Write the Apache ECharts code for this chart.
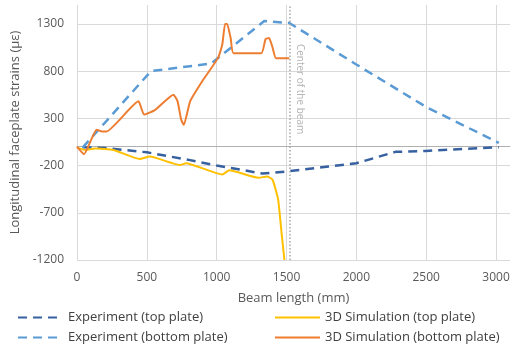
<!DOCTYPE html>
<html>
<head>
<meta charset="utf-8">
<script src="https://cdn.jsdelivr.net/npm/echarts@6/dist/echarts.min.js"></script>
<style>
  html, body { margin: 0; padding: 0; background: #fff; }
  #chart { width: 532px; height: 353px; }
</style>
</head>
<body>
<div id="chart"></div>
<script>
// Longitudinal faceplate strains along the beam: [position (mm), strain (µε)]
const expTop = [
  [40, -5], [200, -15], [500, -60], [800, -140], [1000, -200], [1330, -285],
  [1520, -260], [1800, -210], [2000, -175], [2280, -55], [2500, -45], [3020, -5]
];
const expBottom = [
  [40, -10], [530, 800], [960, 880], [1340, 1330], [1520, 1310],
  [2000, 870], [2500, 420], [3020, 40]
];
const simTop = [
  [0, -10], [60, -35], [130, -20], [260, -35], [450, -130], [520, -105],
  [740, -195], [780, -175], [1040, -295], [1090, -250], [1300, -330],
  [1360, -315], [1400, -350], [1440, -560], [1465, -920], [1485, -1200]
];
const simBottom = [
  [0, 0], [50, -80], [140, 180], [180, 160], [210, 160], [440, 480],
  [480, 340], [560, 390], [690, 550], [720, 480], [745, 290], [765, 230],
  [810, 480], [900, 700], [1010, 940], [1040, 1080], [1060, 1300],
  [1075, 1300], [1100, 1150], [1120, 990], [1320, 990], [1350, 1140],
  [1375, 1150], [1400, 1050], [1425, 935], [1520, 935]
];
const beamCenter = 1520;

const seriesNames = [
  'Experiment (top plate)',
  'Experiment (bottom plate)',
  '3D Simulation (top plate)',
  '3D Simulation (bottom plate)'
];
const seriesColors = ['#36609f', '#5b9bd5', '#ffc000', '#ed7d31'];

const font = '"Open Sans", sans-serif';
const gridColor = '#d9d9d9';
const labelColor = '#595959';
const plain = v => String(v);

const chart = echarts.init(document.getElementById('chart'), null, { renderer: 'canvas' });

const legendBase = {
  orient: 'vertical',
  top: 311,
  padding: 0,
  itemWidth: 45, itemHeight: 14, itemGap: 7,
  itemStyle: { opacity: 0 },
  textStyle: { color: '#404040', fontSize: 13, fontFamily: font }
};

const option = {
  animation: false,
  textStyle: { fontFamily: font },
  grid: { left: 77, right: 22, top: 5, bottom: 93, containLabel: false },
  xAxis: [
    {
      type: 'value',
      min: 0, max: 3100, interval: 500,
      name: 'Beam length (mm)',
      nameLocation: 'middle',
      nameGap: 32,
      nameTextStyle: { color: labelColor, fontSize: 13, fontFamily: font },
      axisLine: { show: false, onZero: false },
      axisTick: { show: false },
      axisLabel: { color: labelColor, fontSize: 12, margin: 12, showMaxLabel: false, fontFamily: font, formatter: plain },
      splitLine: { show: true, showMaxLine: false, lineStyle: { color: gridColor, width: 1 } }
    },
    {
      // horizontal zero line across the plot
      type: 'value',
      min: 0, max: 3100,
      axisLine: { show: true, onZero: true, lineStyle: { color: '#b0b0b0', width: 1 } },
      axisTick: { show: false },
      axisLabel: { show: false },
      splitLine: { show: false }
    }
  ],
  yAxis: {
    type: 'value',
    min: -1200, max: 1500, interval: 500,
    name: 'Longitudinal faceplate strains (µε)',
    nameLocation: 'middle',
    nameGap: 55,
    nameTextStyle: { color: labelColor, fontSize: 13, fontFamily: font },
    axisLine: { show: false },
    axisTick: { show: false },
    axisLabel: { color: labelColor, fontSize: 12, margin: 13, showMaxLabel: false, fontFamily: font, formatter: plain },
    splitLine: { show: true, showMaxLine: false, lineStyle: { color: gridColor, width: 1 } }
  },
  legend: [
    Object.assign({}, legendBase, { data: [seriesNames[0], seriesNames[1]], left: 17 }),
    Object.assign({}, legendBase, { data: [seriesNames[2], seriesNames[3]], left: 274 })
  ],
  series: [
    {
      name: seriesNames[0], type: 'line', data: expTop,
      symbol: 'none', z: 3,
      lineStyle: { color: seriesColors[0], width: 2.5, type: [9, 6] },
      itemStyle: { color: seriesColors[0] }
    },
    {
      name: seriesNames[1], type: 'line', data: expBottom,
      symbol: 'none', z: 3,
      lineStyle: { color: seriesColors[1], width: 2.5, type: [9, 6] },
      itemStyle: { color: seriesColors[1] },
      markLine: {
        silent: true,
        symbol: 'none',
        label: { show: false },
        lineStyle: { color: '#a6a6a6', width: 1.5, type: [1.5, 2] },
        data: [{ xAxis: beamCenter }]
      }
    },
    {
      name: seriesNames[2], type: 'line', data: simTop,
      symbol: 'none', z: 4, smooth: 0.15,
      lineStyle: { color: seriesColors[2], width: 2 },
      itemStyle: { color: seriesColors[2] }
    },
    {
      name: seriesNames[3], type: 'line', data: simBottom,
      symbol: 'none', z: 4, smooth: 0.15,
      lineStyle: { color: seriesColors[3], width: 2 },
      itemStyle: { color: seriesColors[3] }
    }
  ]
};

chart.setOption(option);

// Rotated caption beside the beam-centre line
const anchor = chart.convertToPixel({ gridIndex: 0 }, [beamCenter, 1300]);
chart.setOption({
  graphic: [{
    type: 'text',
    x: anchor[0] + 11,
    y: anchor[1] + 20,
    rotation: -Math.PI / 2,
    silent: true,
    style: {
      text: 'Center of the beam',
      fill: '#b4b4b4',
      font: '10px ' + font,
      align: 'left',
      verticalAlign: 'middle'
    }
  }]
});
</script>
</body>
</html>
